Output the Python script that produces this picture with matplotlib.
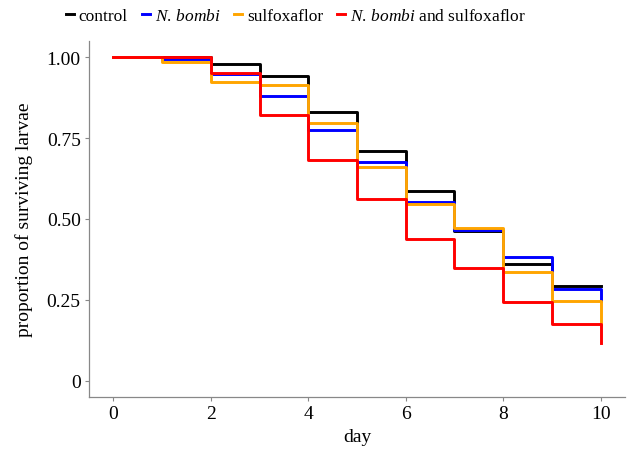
import matplotlib
matplotlib.use("Agg")
import matplotlib.pyplot as plt

plt.rcParams["font.family"] = ["Liberation Serif", "DejaVu Serif"]
plt.rcParams["mathtext.fontset"] = "custom"
plt.rcParams["mathtext.it"] = "Liberation Serif:italic"
plt.rcParams["mathtext.rm"] = "Liberation Serif"

# survival proportions per day (0..10)
days = list(range(11))
control = [1.0, 1.0, 0.979, 0.942, 0.830, 0.711, 0.586, 0.462, 0.360, 0.294, 0.294]
nbombi = [1.0, 0.994, 0.948, 0.879, 0.776, 0.675, 0.552, 0.466, 0.383, 0.285, 0.247]
sulfox = [1.0, 0.985, 0.924, 0.915, 0.798, 0.661, 0.547, 0.473, 0.336, 0.247, 0.175]
both = [1.0, 1.0, 0.951, 0.822, 0.683, 0.562, 0.437, 0.350, 0.242, 0.177, 0.118]

series = [
    (control, "black", "control"),
    (nbombi, "blue", r"$\it{N.\,bombi}$"),
    (sulfox, "orange", "sulfoxaflor"),
    (both, "red", r"$\it{N.\,bombi}$ and sulfoxaflor"),
]

y_ticks = [0, 0.25, 0.5, 0.75, 1.0]
y_labels = ["0", "0.25", "0.50", "0.75", "1.00"]
x_ticks = [0, 2, 4, 6, 8, 10]

fig = plt.figure(figsize=(6.3, 4.52), dpi=100)
ax = fig.add_axes([89 / 630, 1 - 398 / 452, (625 - 89) / 630, (398 - 42) / 452])

for vals, col, lab in series:
    ax.plot(days, vals, drawstyle="steps-post", color=col, lw=2.1, label=lab)

ax.set_xlim(-0.5, 10.5)
ax.set_ylim(-0.05, 1.05)
ax.set_xticks(x_ticks)
ax.set_yticks(y_ticks)
ax.set_yticklabels(y_labels)
ax.tick_params(labelsize=14, color="#888888", length=3, width=0.8, labelcolor="black", pad=3)
ax.set_xlabel("day", fontsize=14, labelpad=4)
ax.set_ylabel("proportion of surviving larvae", fontsize=14, labelpad=10)

for side in ["top", "right"]:
    ax.spines[side].set_visible(False)
for side in ["left", "bottom"]:
    ax.spines[side].set_color("#888888")
    ax.spines[side].set_linewidth(0.9)

fig.legend(loc="center", bbox_to_anchor=(296 / 630, 1 - 17 / 452), ncol=4, frameon=False,
           fontsize=12.5, handlelength=0.45, handletextpad=0.3, columnspacing=0.8,
           borderpad=0.1)

fig.savefig("out.png", dpi=100)
